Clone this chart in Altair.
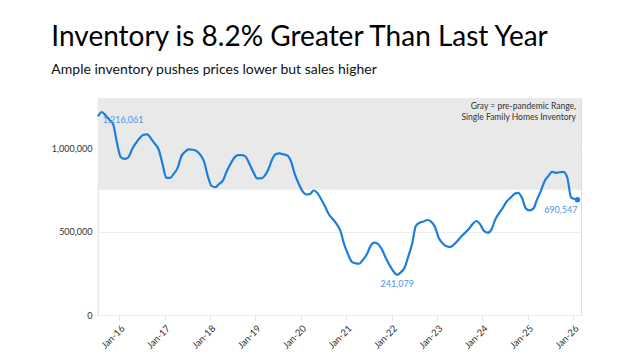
import altair as alt
import pandas as pd

# ---- data ----
months = [
    "2015-07-15", "2015-08-15", "2015-09-15", "2015-10-15", "2015-11-15", "2015-12-15",
    "2016-01-15", "2016-02-15", "2016-03-15", "2016-04-15", "2016-05-15", "2016-06-15",
    "2016-07-15", "2016-08-15", "2016-09-15", "2016-10-15", "2016-11-15", "2016-12-15",
    "2017-01-15", "2017-02-15", "2017-03-15", "2017-04-15", "2017-05-15", "2017-06-15",
    "2017-07-15", "2017-08-15", "2017-09-15", "2017-10-15", "2017-11-15", "2017-12-15",
    "2018-01-15", "2018-02-15", "2018-03-15", "2018-04-15", "2018-05-15", "2018-06-15",
    "2018-07-15", "2018-08-15", "2018-09-15", "2018-10-15", "2018-11-15", "2018-12-15",
    "2019-01-15", "2019-02-15", "2019-03-15", "2019-04-15", "2019-05-15", "2019-06-15",
    "2019-07-15", "2019-08-15", "2019-09-15", "2019-10-15", "2019-11-15", "2019-12-15",
    "2020-01-15", "2020-02-15", "2020-03-15", "2020-04-15", "2020-05-15", "2020-06-15",
    "2020-07-15", "2020-08-15", "2020-09-15", "2020-10-15", "2020-11-15", "2020-12-15",
    "2021-01-15", "2021-02-15", "2021-03-15", "2021-04-15", "2021-05-15", "2021-06-15",
    "2021-07-15", "2021-08-15", "2021-09-15", "2021-10-15", "2021-11-15", "2021-12-15",
    "2022-01-15", "2022-02-15", "2022-03-15", "2022-04-15", "2022-05-15", "2022-06-15",
    "2022-07-15", "2022-08-15", "2022-09-15", "2022-10-15", "2022-11-15", "2022-12-15",
    "2023-01-15", "2023-02-15", "2023-03-15", "2023-04-15", "2023-05-15", "2023-06-15",
    "2023-07-15", "2023-08-15", "2023-09-15", "2023-10-15", "2023-11-15", "2023-12-15",
    "2024-01-15", "2024-02-15", "2024-03-15", "2024-04-15", "2024-05-15", "2024-06-15",
    "2024-07-15", "2024-08-15", "2024-09-15", "2024-10-15", "2024-11-15", "2024-12-15",
    "2025-01-15", "2025-02-15", "2025-03-15", "2025-04-15", "2025-05-15", "2025-06-15",
    "2025-07-15", "2025-08-15", "2025-09-15", "2025-10-15", "2025-11-15", "2025-12-15",
    "2026-01-15", "2026-02-05",
]
inventory = [
    1190000, 1216061, 1195000, 1170000, 1140000, 1030000,
    945000, 935000, 945000, 995000, 1030000, 1060000,
    1080000, 1082000, 1055000, 1025000, 990000, 905000,
    822000, 822000, 845000, 880000, 950000, 978000,
    992000, 990000, 982000, 960000, 918000, 830000,
    772000, 766000, 785000, 805000, 860000, 905000,
    942000, 958000, 958000, 948000, 904000, 858000,
    818000, 818000, 832000, 872000, 930000, 964000,
    968000, 962000, 956000, 920000, 842000, 788000,
    742000, 722000, 725000, 746000, 730000, 692000,
    650000, 602000, 575000, 546000, 505000, 425000,
    365000, 319000, 310000, 307000, 330000, 362000,
    413000, 433000, 425000, 393000, 343000, 300000,
    262000, 241079, 255000, 283000, 350000, 425000,
    533000, 553000, 560000, 569000, 560000, 530000,
    463000, 430000, 413000, 407000, 420000, 443000,
    470000, 493000, 515000, 545000, 563000, 543000,
    503000, 493000, 513000, 573000, 610000, 643000,
    680000, 702000, 725000, 732000, 702000, 640000,
    627000, 637000, 690000, 742000, 800000, 832000,
    858000, 852000, 855000, 858000, 822000, 705000,
    695000, 690547,
]

band_low = [750000]
band_high = [1300000]

note_lines = ["Gray = pre-pandemic Range,", "Single Family Homes Inventory"]

ann_dates = ["2015-08-15", "2022-02-15", "2026-02-05"]
ann_values = [1216061, 241079, 690547]
ann_texts = ["1,216,061", "241,079", "690,547"]

jan_years = list(range(2016, 2027))

# ---- chart ----
W, H = 483, 217
FONT = "Lato"
BLUE = "#1a7fdc"
LBLUE = "#4a98e0"

df = pd.DataFrame({"date": months, "value": inventory})
band_df = pd.DataFrame({"lo": band_low, "hi": band_high})
ann_df = pd.DataFrame({"date": ann_dates, "value": ann_values, "label": ann_texts})

xscale = alt.Scale(domain=[alt.DateTime(year=2015, month=7, date=15),
                           alt.DateTime(year=2026, month=3, date=5)])
yscale = alt.Scale(domain=[0, 1300000], nice=False)

xaxis = alt.Axis(
    values=[alt.DateTime(year=y, month=1, date=1) for y in jan_years],
    format="%b-%y", labelAngle=-45, labelFontSize=9.5, labelColor="#333333",
    labelFont=FONT, grid=False, domain=False, tickColor="#e6e6e6", tickSize=5,
    labelPadding=3, title=None,
)
yaxis = alt.Axis(
    values=[0, 500000, 1000000], format=",d", labelFontSize=9, labelColor="#333333",
    labelFont=FONT, grid=True, gridColor="#eeeeee", domain=False, ticks=False,
    labelPadding=6, title=None,
)

band = alt.Chart(band_df).mark_rect(color="#e9e9e9").encode(
    x=alt.value(0), x2=alt.value(W),
    y=alt.Y("hi:Q", scale=yscale, axis=yaxis), y2="lo:Q",
)

left_rule = alt.Chart(band_df).mark_rule(color="#eeeeee").encode(
    x=alt.value(0), y=alt.value(0), y2=alt.value(H)
)

line = alt.Chart(df).mark_line(color=BLUE, strokeWidth=2.2, interpolate="monotone").encode(
    x=alt.X("date:T", scale=xscale, axis=xaxis),
    y=alt.Y("value:Q", scale=yscale),
)

last = alt.Chart(df.tail(1)).mark_circle(color=BLUE, size=28, opacity=1).encode(
    x="date:T", y="value:Q"
)

lab1 = alt.Chart(ann_df.iloc[[0]]).mark_text(
    align="left", baseline="middle", dx=1, dy=8, fontSize=9, font=FONT, color=LBLUE
).encode(x="date:T", y="value:Q", text="label:N")
lab2 = alt.Chart(ann_df.iloc[[1]]).mark_text(
    align="center", baseline="middle", dx=0, dy=9, fontSize=9, font=FONT, color=LBLUE
).encode(x="date:T", y="value:Q", text="label:N")
lab3 = alt.Chart(ann_df.iloc[[2]]).mark_text(
    align="right", baseline="middle", dx=0, dy=10, fontSize=9, font=FONT, color=LBLUE
).encode(x="date:T", y="value:Q", text="label:N")

note = alt.Chart(band_df).mark_text(
    text=note_lines, align="right", baseline="top", fontSize=8.5, font=FONT,
    color="#333333", lineHeight=11,
).encode(x=alt.value(W - 5), y=alt.value(4))

chart = alt.layer(band, left_rule, line, last, lab1, lab2, lab3, note).properties(
    width=W, height=H,
    padding={"left": 43, "top": 15, "right": 5, "bottom": 5},
    title=alt.TitleParams(
        text="Inventory is 8.2% Greater Than Last Year",
        subtitle="Ample inventory pushes prices lower but sales higher",
        anchor="start", font=FONT, fontSize=28, fontWeight="normal", color="#000000",
        subtitleFont=FONT, subtitleFontSize=14, subtitleColor="#111111",
        subtitlePadding=11, offset=21,
    ),
).configure_view(stroke=None).configure(background="white")

chart.save("out.html", embed_options={"renderer": "svg", "actions": False})
